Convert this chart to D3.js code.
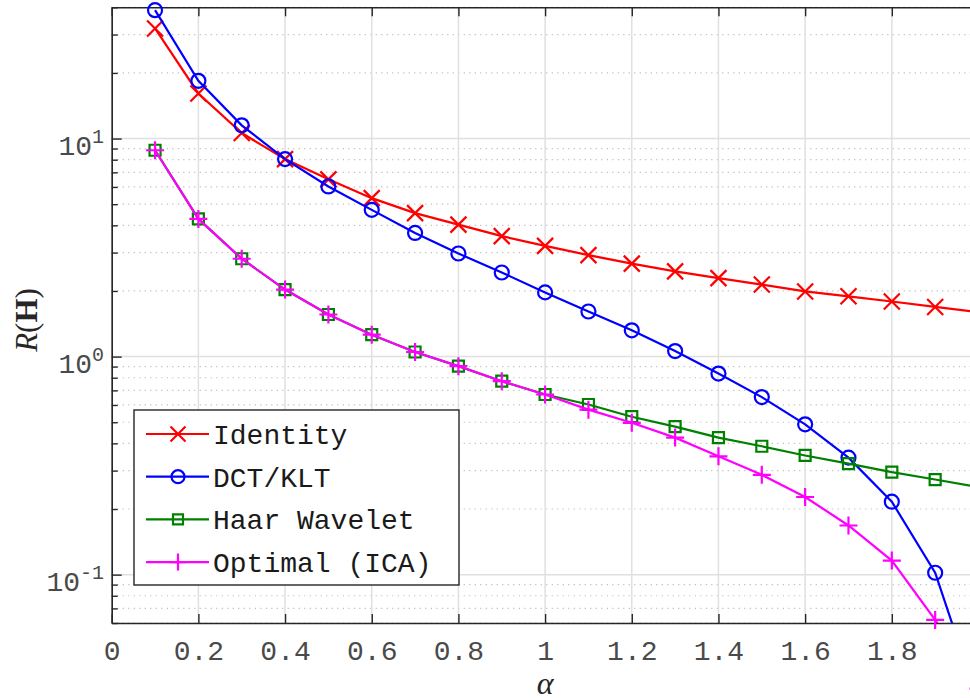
<!DOCTYPE html>
<html>
<head>
<meta charset="utf-8">
<script src="https://cdn.jsdelivr.net/npm/d3@7"></script>
<style>
  html, body { margin: 0; padding: 0; background: #fff; }
  svg { display: block; }
</style>
</head>
<body>
<script>
/* DATA */
var alpha    = [0.1, 0.2, 0.3, 0.4, 0.5, 0.6, 0.7, 0.8, 0.9, 1.0, 1.1, 1.2, 1.3, 1.4, 1.5, 1.6, 1.7, 1.8, 1.9, 2.0];
var identity = [32.0, 16.1, 10.6, 8.05, 6.5, 5.33, 4.55, 4.03, 3.57, 3.22, 2.92, 2.67, 2.46, 2.29, 2.14, 1.99, 1.89, 1.79, 1.69, 1.6];
var dctKlt   = [38.8, 18.4, 11.5, 8.05, 6.03, 4.71, 3.69, 2.97, 2.43, 1.97, 1.61, 1.32, 1.06, 0.836, 0.652, 0.489, 0.344, 0.216, 0.102, 0.026];
var haar     = [8.84, 4.28, 2.81, 2.03, 1.56, 1.26, 1.05, 0.904, 0.771, 0.67, 0.603, 0.53, 0.477, 0.425, 0.388, 0.352, 0.323, 0.295, 0.273, 0.252];
var optimal  = [8.84, 4.28, 2.81, 2.03, 1.56, 1.26, 1.05, 0.904, 0.771, 0.67, 0.571, 0.497, 0.425, 0.349, 0.287, 0.227, 0.168, 0.116, 0.062, 0.03];

var seriesNames = ['Identity', 'DCT/KLT', 'Haar Wavelet', 'Optimal (ICA)'];
var xTicks      = [0, 0.2, 0.4, 0.6, 0.8, 1, 1.2, 1.4, 1.6, 1.8];
var xTickLabels = ['0', '0.2', '0.4', '0.6', '0.8', '1', '1.2', '1.4', '1.6', '1.8'];
var yTicks      = [0.1, 1, 10];
var yTickExp    = ['-1', '0', '1'];
var xDomain     = [0, 2];
var yDomain     = [0.06, 40];

/* VARIABLES */
var w = 970, h = 698;
var pLeft = 111.7, pRight = 978.5, pTop = 7.3, pBottom = 623;
var mono = '"Courier New", "Nimbus Mono PS", "FreeMono", "Liberation Mono", monospace';
var serif = '"Liberation Serif", "Times New Roman", serif';
var axisColor = '#262626';
var tickText = '#4a4a4a';

var series = [
  { name: seriesNames[0], values: identity, color: '#ff0000', marker: 'x' },
  { name: seriesNames[1], values: dctKlt,   color: '#0000ff', marker: 'o' },
  { name: seriesNames[2], values: haar,     color: '#008000', marker: 's' },
  { name: seriesNames[3], values: optimal,  color: '#ff00ff', marker: '+' },
];

var x = d3.scaleLinear().domain(xDomain).range([pLeft, pRight]);
var y = d3.scaleLog().domain(yDomain).range([pBottom, pTop]);

var svg = d3.select('body').append('svg').attr('width', w).attr('height', h);

/* MINOR TICK VALUES */
var yMinor = [];
[0.01, 0.1, 1, 10].forEach(function(d){
  for (var k = 2; k <= 9; k++){
    var v = +(d * k).toPrecision(3);
    if (v >= yDomain[0] && v <= yDomain[1]) yMinor.push(v);
  }
});

/* GRID */
var grid = svg.append('g');
grid.selectAll('line.minor')
  .data(yMinor).enter().append('line')
    .attr('x1', pLeft).attr('x2', pRight)
    .attr('y1', function(d){ return y(d); })
    .attr('y2', function(d){ return y(d); })
    .attr('stroke', '#bdbdbd')
    .attr('stroke-width', 1.2)
    .attr('stroke-dasharray', '1.2,4.3');
grid.selectAll('line.vx')
  .data(xTicks).enter().append('line')
    .attr('x1', function(d){ return x(d); })
    .attr('x2', function(d){ return x(d); })
    .attr('y1', pTop).attr('y2', pBottom)
    .attr('stroke', '#e0e0e0').attr('stroke-width', 1.5);
grid.selectAll('line.hy')
  .data(yTicks).enter().append('line')
    .attr('x1', pLeft).attr('x2', pRight)
    .attr('y1', function(d){ return y(d); })
    .attr('y2', function(d){ return y(d); })
    .attr('stroke', '#e0e0e0').attr('stroke-width', 1.5);

/* AXES */
var xAxis = d3.axisBottom(x)
  .tickValues(xTicks)
  .tickFormat(function(d, i){ return xTickLabels[i]; })
  .tickSizeInner(-9).tickSizeOuter(0).tickPadding(17);
var gx = svg.append('g').attr('transform', 'translate(0,' + pBottom + ')').call(xAxis);

var xTop = d3.axisTop(x).tickValues(xTicks).tickFormat('').tickSizeInner(-9).tickSizeOuter(0);
var gxt = svg.append('g').attr('transform', 'translate(0,' + pTop + ')').call(xTop);

var yAxis = d3.axisLeft(y).tickValues(yTicks).tickFormat('').tickSizeInner(-10).tickSizeOuter(0);
var gy = svg.append('g').attr('transform', 'translate(' + pLeft + ',0)').call(yAxis);

var yMin = d3.axisLeft(y).tickValues(yMinor).tickFormat('').tickSizeInner(-6).tickSizeOuter(0);
var gym = svg.append('g').attr('transform', 'translate(' + pLeft + ',0)').call(yMin);
gym.select('.domain').remove();

[gx, gxt, gy, gym].forEach(function(g){
  g.select('.domain').attr('stroke', axisColor).attr('stroke-width', 1.6);
  g.selectAll('.tick line').attr('stroke', axisColor).attr('stroke-width', 1.4);
});
gx.selectAll('.tick text')
  .attr('font-family', mono).attr('font-size', 28).attr('fill', tickText);

/* Y TICK LABELS WITH EXPONENTS */
var ylab = svg.append('g').selectAll('text')
  .data(yTicks).enter().append('text')
    .attr('x', 104)
    .attr('y', function(d){ return y(d) + 16; })
    .attr('text-anchor', 'end')
    .attr('font-family', mono)
    .attr('font-size', 28)
    .attr('fill', tickText);
ylab.append('tspan').text('10');
ylab.append('tspan')
  .attr('dy', -12).attr('font-size', 20)
  .text(function(d, i){ return yTickExp[i]; });

/* AXIS LABELS */
svg.append('text')
  .attr('x', (pLeft + pRight) / 2).attr('y', 694)
  .attr('text-anchor', 'middle')
  .attr('font-family', serif).attr('font-style', 'italic')
  .attr('font-size', 32).attr('fill', '#262626')
  .text('α');

var yl = svg.append('text')
  .attr('transform', 'translate(37,320) rotate(-90)')
  .attr('text-anchor', 'middle')
  .attr('font-family', serif).attr('font-size', 31).attr('fill', '#262626');
yl.append('tspan').attr('font-style', 'italic').text('R');
yl.append('tspan').text('(');
yl.append('tspan').attr('font-weight', 'bold').text('H');
yl.append('tspan').text(')');

/* LINES */
svg.append('clipPath').attr('id', 'plot-clip')
  .append('rect')
    .attr('x', pLeft).attr('y', pTop)
    .attr('width', pRight - pLeft).attr('height', pBottom - pTop);

var line = d3.line()
  .x(function(d){ return x(d.a); })
  .y(function(d){ return y(d.v); });

function markerPath(type, s){
  if (type === 'x') return 'M' + (-s) + ',' + (-s) + 'L' + s + ',' + s + 'M' + (-s) + ',' + s + 'L' + s + ',' + (-s);
  if (type === '+') return 'M' + (-s) + ',0L' + s + ',0M0,' + (-s) + 'L0,' + s;
  if (type === 's') return 'M' + (-s) + ',' + (-s) + 'H' + s + 'V' + s + 'H' + (-s) + 'Z';
  return d3.arc()({ innerRadius: 0, outerRadius: s, startAngle: 0, endAngle: 2 * Math.PI });
}
var markerSize = { x: 8, o: 7, s: 5.5, '+': 9 };

series.forEach(function(s){
  var pts = alpha.map(function(a, i){ return { a: a, v: s.values[i] }; });
  var g = svg.append('g');
  g.append('path')
    .attr('d', line(pts))
    .attr('clip-path', 'url(#plot-clip)')
    .attr('fill', 'none')
    .attr('stroke', s.color)
    .attr('stroke-width', 2.2);
  g.selectAll('path.mk')
    .data(pts).enter().append('path')
      .attr('class', 'mk')
      .attr('transform', function(d){ return 'translate(' + x(d.a) + ',' + y(d.v) + ')'; })
      .attr('d', markerPath(s.marker, markerSize[s.marker]))
      .attr('fill', 'none')
      .attr('stroke', s.color)
      .attr('stroke-width', 2.2);
});

/* LEGEND */
var lg = svg.append('g');
lg.append('rect')
  .attr('x', 134).attr('y', 410).attr('width', 325).attr('height', 175)
  .attr('fill', '#fff').attr('stroke', axisColor).attr('stroke-width', 1.4);
var rows = lg.selectAll('g.row')
  .data(series).enter().append('g')
    .attr('transform', function(d, i){ return 'translate(0,' + (434 + i * 42.7) + ')'; });
rows.append('line')
  .attr('x1', 146).attr('x2', 209).attr('y1', 0).attr('y2', 0)
  .attr('stroke', function(d){ return d.color; }).attr('stroke-width', 2.2);
rows.append('path')
  .attr('transform', 'translate(178,0)')
  .attr('d', function(d){ return markerPath(d.marker, d.marker === 's' ? 5 : markerSize[d.marker] - 0.5); })
  .attr('fill', 'none')
  .attr('stroke', function(d){ return d.color; }).attr('stroke-width', 2.2);
rows.append('text')
  .attr('x', 213).attr('y', 10)
  .attr('font-family', mono).attr('font-size', 28).attr('fill', '#1a1a1a')
  .text(function(d){ return d.name; });
</script>
</body>
</html>
